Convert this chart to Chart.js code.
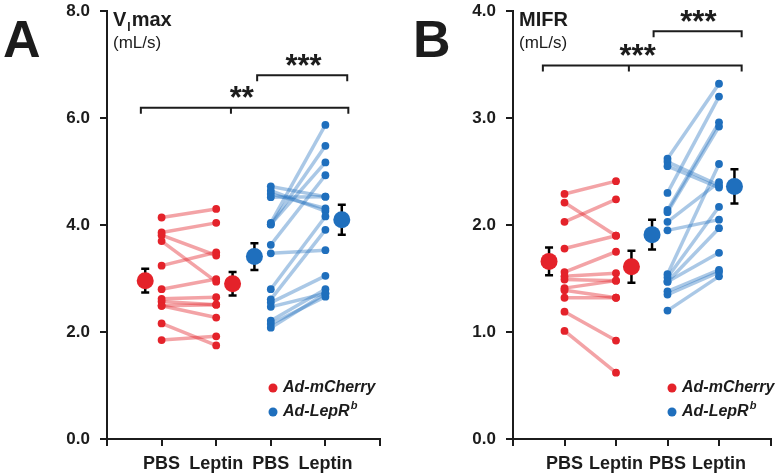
<!DOCTYPE html>
<html>
<head>
<meta charset="utf-8">
<script src="https://cdn.jsdelivr.net/npm/chart.js@4.4.1/dist/chart.umd.min.js"></script>
<style>
  body { margin: 0; background: #fff; width: 779px; height: 474px; overflow: hidden; position: relative; }
  .panel { position: absolute; top: 0; }
</style>
</head>
<body>
<div class="panel" style="left:0px"><canvas id="chartA" width="395" height="474"></canvas></div>
<div class="panel" style="left:395px"><canvas id="chartB" width="384" height="474"></canvas></div>
<script>
const categories = ['PBS', 'Leptin', 'PBS', 'Leptin'];
const groups = ['Ad-mCherry', 'Ad-LepR'];

// panel A - VImax (mL/s), paired mice
const vimaxCherryPBS    = [4.14, 3.86, 3.81, 3.70, 3.24, 2.80, 2.62, 2.57, 2.49, 2.49, 2.16, 1.85];
const vimaxCherryLeptin = [4.30, 4.04, 3.43, 2.94, 3.49, 2.99, 2.65, 2.51, 2.51, 2.27, 1.75, 1.92];
const vimaxLepRPBS      = [4.72, 4.64, 4.58, 4.52, 4.04, 4.01, 4.01, 3.63, 3.47, 2.80, 2.61, 2.55, 2.47, 2.21, 2.15, 2.08];
const vimaxLepRLeptin   = [4.53, 4.26, 4.31, 4.53, 5.87, 5.48, 5.17, 4.93, 3.53, 4.16, 3.91, 3.05, 2.72, 2.80, 2.66, 2.72];
const vimaxMeans = [2.96, 2.90, 3.41, 4.10];
const vimaxSEM   = [0.22, 0.22, 0.25, 0.28];

// panel B - MIFR (mL/s)
const mifrCherryPBS    = [2.29, 2.21, 2.03, 1.78, 1.56, 1.52, 1.49, 1.41, 1.39, 1.32, 1.19, 1.01];
const mifrCherryLeptin = [2.41, 1.90, 2.24, 1.90, 1.75, 1.55, 1.48, 1.48, 1.32, 1.32, 0.92, 0.62];
const mifrLepRPBS      = [2.62, 2.59, 2.55, 2.30, 2.14, 2.12, 2.03, 1.95, 1.54, 1.51, 1.47, 1.47, 1.38, 1.35, 1.20];
const mifrLepRLeptin   = [3.32, 2.37, 2.35, 3.20, 2.96, 2.92, 2.40, 2.05, 2.57, 2.17, 1.97, 1.74, 1.58, 1.56, 1.52];
const mifrMeans = [1.66, 1.61, 1.91, 2.36];
const mifrSEM   = [0.13, 0.15, 0.14, 0.16];

// significance brackets: [from x, to x, middle tick x or null, y, label, label x, label y]
const vimaxBrackets = [
    [0.62, 4.42, 2.27, 6.19, '**', 2.47, 6.44],
    [2.75, 4.40, null, 6.80, '***', 3.60, 7.04]
];
const mifrBrackets = [
    [0.58, 4.44, 2.25, 3.49, '***', 2.42, 3.61],
    [2.73, 4.44, null, 3.81, '***', 3.60, 3.93]
];

const RED = '#e4222a';
const BLUE = '#1f6fbd';
const RED_LINE = 'rgba(227,35,42,0.42)';
const BLUE_LINE = 'rgba(31,111,189,0.38)';
const INK = '#1c1c1c';
const FONT = 'Arial, "Liberation Sans", sans-serif';

function pairDatasets(pbs, leptin, x0, color, lineColor) {
    var sets = [];
    for (var i = 0; i < pbs.length; i++) {
        sets.push({
            type: 'line',
            data: [{x: x0, y: pbs[i]}, {x: x0 + 1, y: leptin[i]}],
            borderColor: lineColor,
            borderWidth: 3.5,
            pointRadius: 0,
            order: 3
        });
    }
    sets.push({
        type: 'scatter',
        data: pbs.map(v => ({x: x0, y: v})).concat(leptin.map(v => ({x: x0 + 1, y: v}))),
        backgroundColor: color,
        borderWidth: 0,
        pointRadius: 3.9,
        order: 2
    });
    return sets;
}

function meanDataset(means) {
    // means sit just outside each pair of columns
    var xs = [0.7, 2.3, 2.7, 4.3];
    return {
        type: 'scatter',
        data: means.map((m, i) => ({x: xs[i], y: m})),
        backgroundColor: [RED, RED, BLUE, BLUE],
        borderWidth: 0,
        pointRadius: 8.5,
        order: 1
    };
}

const overlay = {
    id: 'overlay',
    beforeDatasetsDraw(chart, args, opts) {
        const ctx = chart.ctx, xs = chart.scales.x, ys = chart.scales.y;
        const means = chart.data.datasets.find(d => d.pointRadius === 8.5).data;
        ctx.save();
        ctx.strokeStyle = '#000';
        ctx.lineWidth = 2.5;
        means.forEach((p, i) => {
            var x = xs.getPixelForValue(p.x);
            var top = ys.getPixelForValue(p.y + opts.sem[i]);
            var bot = ys.getPixelForValue(p.y - opts.sem[i]);
            ctx.beginPath();
            ctx.moveTo(x, top); ctx.lineTo(x, bot);
            ctx.moveTo(x - 4, top); ctx.lineTo(x + 4, top);
            ctx.moveTo(x - 4, bot); ctx.lineTo(x + 4, bot);
            ctx.stroke();
        });
        ctx.restore();
    },
    afterDraw(chart, args, opts) {
        const ctx = chart.ctx, xs = chart.scales.x, ys = chart.scales.y;
        ctx.save();
        ctx.fillStyle = INK;
        ctx.strokeStyle = INK;

        // panel letter
        ctx.font = 'bold 52px ' + FONT;
        ctx.textBaseline = 'alphabetic';
        ctx.textAlign = 'left';
        ctx.fillText(opts.letter, opts.letterX, 57);

        // y title
        var tx = chart.chartArea.left + 6;
        ctx.font = 'bold 20px ' + FONT;
        ctx.fillText(opts.title, tx, 26);
        if (opts.sub) {
            var w = ctx.measureText(opts.title).width;
            ctx.font = 'bold 12px ' + FONT;
            ctx.fillText(opts.sub, tx + w + 1, 31);
            var w2 = ctx.measureText(opts.sub).width;
            ctx.font = 'bold 20px ' + FONT;
            ctx.fillText(opts.rest, tx + w + w2 + 2, 26);
        }
        ctx.font = '17px ' + FONT;
        ctx.fillText('(mL/s)', tx, 48);

        // brackets
        ctx.lineWidth = 2;
        opts.brackets.forEach(b => {
            var x1 = xs.getPixelForValue(b[0]), x2 = xs.getPixelForValue(b[1]);
            var y = ys.getPixelForValue(b[3]);
            ctx.beginPath();
            ctx.moveTo(x1, y + 6); ctx.lineTo(x1, y); ctx.lineTo(x2, y); ctx.lineTo(x2, y + 6);
            if (b[2] !== null) {
                var xm = xs.getPixelForValue(b[2]);
                ctx.moveTo(xm, y); ctx.lineTo(xm, y + 6);
            }
            ctx.stroke();
            ctx.font = 'bold 31px ' + FONT;
            ctx.textAlign = 'center';
            ctx.textBaseline = 'middle';
            ctx.fillText(b[4], xs.getPixelForValue(b[5]), ys.getPixelForValue(b[6]) + 5);
        });

        // legend
        ctx.textAlign = 'left';
        ctx.textBaseline = 'middle';
        [RED, BLUE].forEach((c, i) => {
            var y = 388 + i * 24;
            ctx.fillStyle = c;
            ctx.beginPath();
            ctx.arc(opts.legendX, y, 4.5, 0, Math.PI * 2);
            ctx.fill();
            ctx.fillStyle = INK;
            ctx.font = 'italic bold 16px ' + FONT;
            ctx.fillText(groups[i], opts.legendX + 10, y);
            if (i === 1) {
                var lw = ctx.measureText(groups[i]).width;
                ctx.font = 'italic bold 11px ' + FONT;
                ctx.fillText('b', opts.legendX + 11 + lw, y - 6);
            }
        });
        ctx.restore();
    }
};

function makeChart(id, pbsC, lepC, pbsL, lepL, means, sem, yMax, yStep, axisLeft, padRight, extra) {
    var datasets = [meanDataset(means)]
        .concat(pairDatasets(pbsC, lepC, 1, RED, RED_LINE))
        .concat(pairDatasets(pbsL, lepL, 3, BLUE, BLUE_LINE));
    extra.sem = sem;
    return new Chart(document.getElementById(id), {
        type: 'scatter',
        data: {datasets: datasets},
        plugins: [overlay],
        options: {
            responsive: false,
            animation: false,
            events: [],
            devicePixelRatio: 1,
            layout: {padding: {left: 0, right: padRight, top: 11, bottom: 0}},
            plugins: {legend: {display: false}, tooltip: {enabled: false}, overlay: extra},
            scales: {
                x: {
                    type: 'linear', min: 0, max: 5,
                    afterBuildTicks: s => { s.ticks = [0, 1, 2, 3, 4, 5].map(v => ({value: v})); },
                    afterFit: s => { s.height = 35; s.paddingLeft = 0; s.paddingRight = 0; },
                    ticks: {
                        callback: v => categories[v - 1] || '',
                        font: {family: FONT, size: 18, weight: 'bold'},
                        color: INK, padding: 7, autoSkip: false, maxRotation: 0
                    },
                    grid: {drawOnChartArea: false, drawTicks: true, tickLength: 7, color: INK, lineWidth: 2},
                    border: {display: true, color: INK, width: 2}
                },
                y: {
                    min: 0, max: yMax,
                    afterFit: s => { s.width = axisLeft; s.paddingTop = 0; s.paddingBottom = 0; },
                    ticks: {
                        stepSize: yStep,
                        callback: v => v.toFixed(1),
                        font: {family: FONT, size: 17, weight: 'bold'},
                        color: INK, padding: 10
                    },
                    grid: {drawOnChartArea: false, drawTicks: true, tickLength: 7, color: INK, lineWidth: 2},
                    border: {display: true, color: INK, width: 2}
                }
            }
        }
    });
}

makeChart('chartA', vimaxCherryPBS, vimaxCherryLeptin, vimaxLepRPBS, vimaxLepRLeptin,
    vimaxMeans, vimaxSEM, 8, 2, 107, 15,
    {letter: 'A', letterX: 3, title: 'V', sub: 'I', rest: 'max', brackets: vimaxBrackets, legendX: 273});

makeChart('chartB', mifrCherryPBS, mifrCherryLeptin, mifrLepRPBS, mifrLepRLeptin,
    mifrMeans, mifrSEM, 4, 1, 118, 6,
    {letter: 'B', letterX: 18, title: 'MIFR', brackets: mifrBrackets, legendX: 277});
</script>
</body>
</html>
